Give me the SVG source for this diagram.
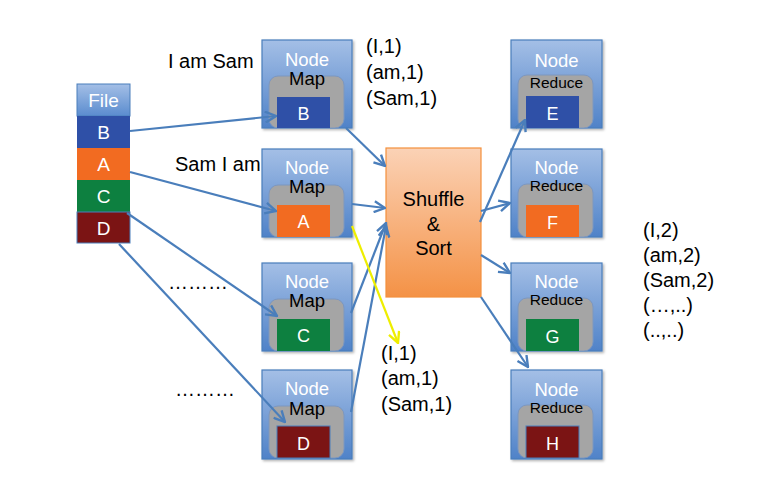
<svg xmlns="http://www.w3.org/2000/svg" width="759" height="499" viewBox="0 0 759 499">
<defs>
<linearGradient id="gNode" x1="0" y1="0" x2="0" y2="1">
<stop offset="0" stop-color="#a4bfe6"/>
<stop offset="1" stop-color="#4f82c8"/>
</linearGradient>
<linearGradient id="gFile" x1="0" y1="0" x2="0" y2="1">
<stop offset="0" stop-color="#a4bfe6"/>
<stop offset="1" stop-color="#5a8ccf"/>
</linearGradient>
<linearGradient id="gShuf" x1="0" y1="0" x2="0" y2="1">
<stop offset="0" stop-color="#fbd2b6"/>
<stop offset="1" stop-color="#f49246"/>
</linearGradient>
<filter id="sh" x="-10%" y="-10%" width="125%" height="125%">
<feDropShadow dx="1.5" dy="1.5" stdDeviation="1.2" flood-color="#000" flood-opacity="0.3"/>
</filter>
<marker id="ah" viewBox="0 0 12 12" refX="11" refY="6" markerWidth="13" markerHeight="13" markerUnits="userSpaceOnUse" orient="auto">
<path d="M1,1 L11,6 L1,11" fill="none" stroke="#4a7ebb" stroke-width="2.2" stroke-linejoin="miter"/>
</marker>
<marker id="ahy" viewBox="0 0 12 12" refX="11" refY="6" markerWidth="13" markerHeight="13" markerUnits="userSpaceOnUse" orient="auto">
<path d="M1,1 L11,6 L1,11" fill="none" stroke="#eeee00" stroke-width="2.2"/>
</marker>
</defs>
<style>
text{font-family:"Liberation Sans",Arial,sans-serif;}
.outer{fill:url(#gNode);stroke:#4a7ebb;stroke-width:1.2;filter:url(#sh);}
.grey{fill:#a5a5a5;stroke:#7d97bf;stroke-width:1;}
.w{fill:#fff;text-anchor:middle;}
.k{fill:#000;text-anchor:middle;}
.nd{font-size:18.5px;}
.rd{font-size:15.5px;}
.lt{font-size:18px;}
.lbl{fill:#000;font-size:20px;}
.con{stroke:#4a7ebb;stroke-width:2.2;fill:none;marker-end:url(#ah);}
.yel{stroke:#eeee00;stroke-width:2.2;fill:none;marker-end:url(#ahy);}
.b{fill:#2f50a7;} .a{fill:#f26b21;} .c{fill:#0d8040;} .d{fill:#7b1414;}
</style>

<rect width="759" height="499" fill="#fff"/>

<g id="file">
<rect x="77" y="84" width="53" height="32" fill="url(#gFile)" stroke="#4a7ebb" stroke-width="1"/>
<text x="103.5" y="107" class="w" font-size="19">File</text>
<rect x="77" y="116" width="53" height="32" class="b"/>
<text x="103.5" y="139" class="w" font-size="19">B</text>
<rect x="77" y="148" width="53" height="32" class="a"/>
<text x="103.5" y="171" class="w" font-size="19">A</text>
<rect x="77" y="180" width="53" height="32" class="c"/>
<text x="103.5" y="203" class="w" font-size="19">C</text>
<rect x="77" y="212" width="53" height="31" class="d" stroke="#4a7ebb" stroke-width="1"/>
<text x="103.5" y="235" class="w" font-size="19">D</text>
</g>

<g id="map-b" transform="translate(262,40)">
<rect x="0" y="0" width="90" height="88" class="outer"/>
<rect x="7" y="36" width="75" height="52" rx="9" class="grey"/>
<text x="45" y="26" class="w nd">Node</text>
<text x="45" y="45" class="k nd">Map</text>
<rect x="15" y="57" width="53" height="31" class="b"/>
<text x="41.5" y="80" class="w lt">B</text>
</g>
<g id="map-a" transform="translate(262,149)">
<rect x="0" y="0" width="90" height="88" class="outer"/>
<rect x="7" y="36" width="75" height="52" rx="9" class="grey"/>
<text x="45" y="25" class="w nd">Node</text>
<text x="45" y="44" class="k nd">Map</text>
<rect x="15" y="56" width="53" height="32" class="a"/>
<text x="41.5" y="79" class="w lt">A</text>
</g>
<g id="map-c" transform="translate(262,263)">
<rect x="0" y="0" width="90" height="88" class="outer"/>
<rect x="7" y="36" width="75" height="52" rx="9" class="grey"/>
<text x="45" y="25" class="w nd">Node</text>
<text x="45" y="44" class="k nd">Map</text>
<rect x="15" y="56" width="53" height="32" class="c"/>
<text x="41.5" y="79" class="w lt">C</text>
</g>
<g id="map-d" transform="translate(262,370)">
<rect x="0" y="0" width="90" height="89" class="outer"/>
<rect x="7" y="36" width="75" height="52" rx="9" class="grey"/>
<text x="45" y="25" class="w nd">Node</text>
<text x="45" y="44.5" class="k nd">Map</text>
<rect x="15" y="56" width="53" height="32" class="d" stroke="#4a7ebb" stroke-width="1"/>
<text x="41.5" y="80" class="w lt">D</text>
</g>

<g id="shuffle">
<rect x="386" y="148" width="95" height="149" fill="url(#gShuf)" stroke="#f4903c" stroke-width="1.2"/>
<text x="433.5" y="206" class="k" font-size="20">Shuffle</text>
<text x="433.5" y="231" class="k" font-size="20">&amp;</text>
<text x="433.5" y="255" class="k" font-size="20">Sort</text>
</g>

<g id="reduce-e" transform="translate(511,40)">
<rect x="0" y="0" width="91" height="88" class="outer"/>
<rect x="7" y="35" width="75" height="53" rx="9" class="grey"/>
<text x="45.5" y="27" class="w nd">Node</text>
<text x="45.5" y="48" class="k rd">Reduce</text>
<rect x="15" y="56" width="53" height="32" class="b"/>
<text x="41.5" y="80" class="w lt">E</text>
</g>
<g id="reduce-f" transform="translate(511,149)">
<rect x="0" y="0" width="91" height="88" class="outer"/>
<rect x="7" y="35" width="75" height="53" rx="9" class="grey"/>
<text x="45.5" y="25" class="w nd">Node</text>
<text x="45.5" y="42" class="k rd">Reduce</text>
<rect x="15" y="56" width="53" height="32" class="a"/>
<text x="41.5" y="80" class="w lt">F</text>
</g>
<g id="reduce-g" transform="translate(511,263)">
<rect x="0" y="0" width="91" height="88" class="outer"/>
<rect x="7" y="35" width="75" height="53" rx="9" class="grey"/>
<text x="45.5" y="25" class="w nd">Node</text>
<text x="45.5" y="42" class="k rd">Reduce</text>
<rect x="15" y="56" width="53" height="32" class="c"/>
<text x="41.5" y="80" class="w lt">G</text>
</g>
<g id="reduce-h" transform="translate(511,370)">
<rect x="0" y="0" width="91" height="89" class="outer"/>
<rect x="7" y="35" width="75" height="53" rx="9" class="grey"/>
<text x="45.5" y="26" class="w nd">Node</text>
<text x="45.5" y="43" class="k rd">Reduce</text>
<rect x="15" y="56" width="53" height="32" class="d" stroke="#4a7ebb" stroke-width="1"/>
<text x="41.5" y="80" class="w lt">H</text>
</g>

<g id="connectors">
<line x1="130" y1="131" x2="276" y2="116" class="con"/>
<line x1="130" y1="172" x2="276" y2="211" class="con"/>
<line x1="127" y1="213" x2="277" y2="316" class="con"/>
<line x1="119" y1="244" x2="285" y2="422" class="con"/>
<line x1="346" y1="128" x2="385" y2="166" class="con"/>
<line x1="352" y1="204" x2="385" y2="208" class="con"/>
<line x1="351" y1="313" x2="386" y2="223" class="con"/>
<line x1="351" y1="412" x2="386" y2="226" class="con"/>
<line x1="352" y1="226" x2="398" y2="343" class="yel"/>
<line x1="480" y1="222" x2="525" y2="120" class="con"/>
<line x1="481" y1="211" x2="510" y2="203" class="con"/>
<line x1="481" y1="255" x2="510" y2="273" class="con"/>
<line x1="481" y1="297" x2="528" y2="367" class="con"/>
</g>

<g id="labels">
<text x="168" y="68" class="lbl">I am Sam</text>
<text x="175" y="171" class="lbl">Sam I am</text>
<text x="366" y="53" class="lbl">(I,1)</text>
<text x="366" y="79" class="lbl">(am,1)</text>
<text x="366" y="105" class="lbl">(Sam,1)</text>
<text x="381" y="360" class="lbl">(I,1)</text>
<text x="381" y="385" class="lbl">(am,1)</text>
<text x="381" y="411" class="lbl">(Sam,1)</text>
<text x="643" y="237" class="lbl">(I,2)</text>
<text x="643" y="262" class="lbl">(am,2)</text>
<text x="643" y="287" class="lbl">(Sam,2)</text>
<text x="643" y="312" class="lbl">(…,..)</text>
<text x="643" y="337" class="lbl">(..,..)</text>
<text x="168" y="289" class="lbl">………</text>
<text x="175" y="396" class="lbl">………</text>
</g>
</svg>
